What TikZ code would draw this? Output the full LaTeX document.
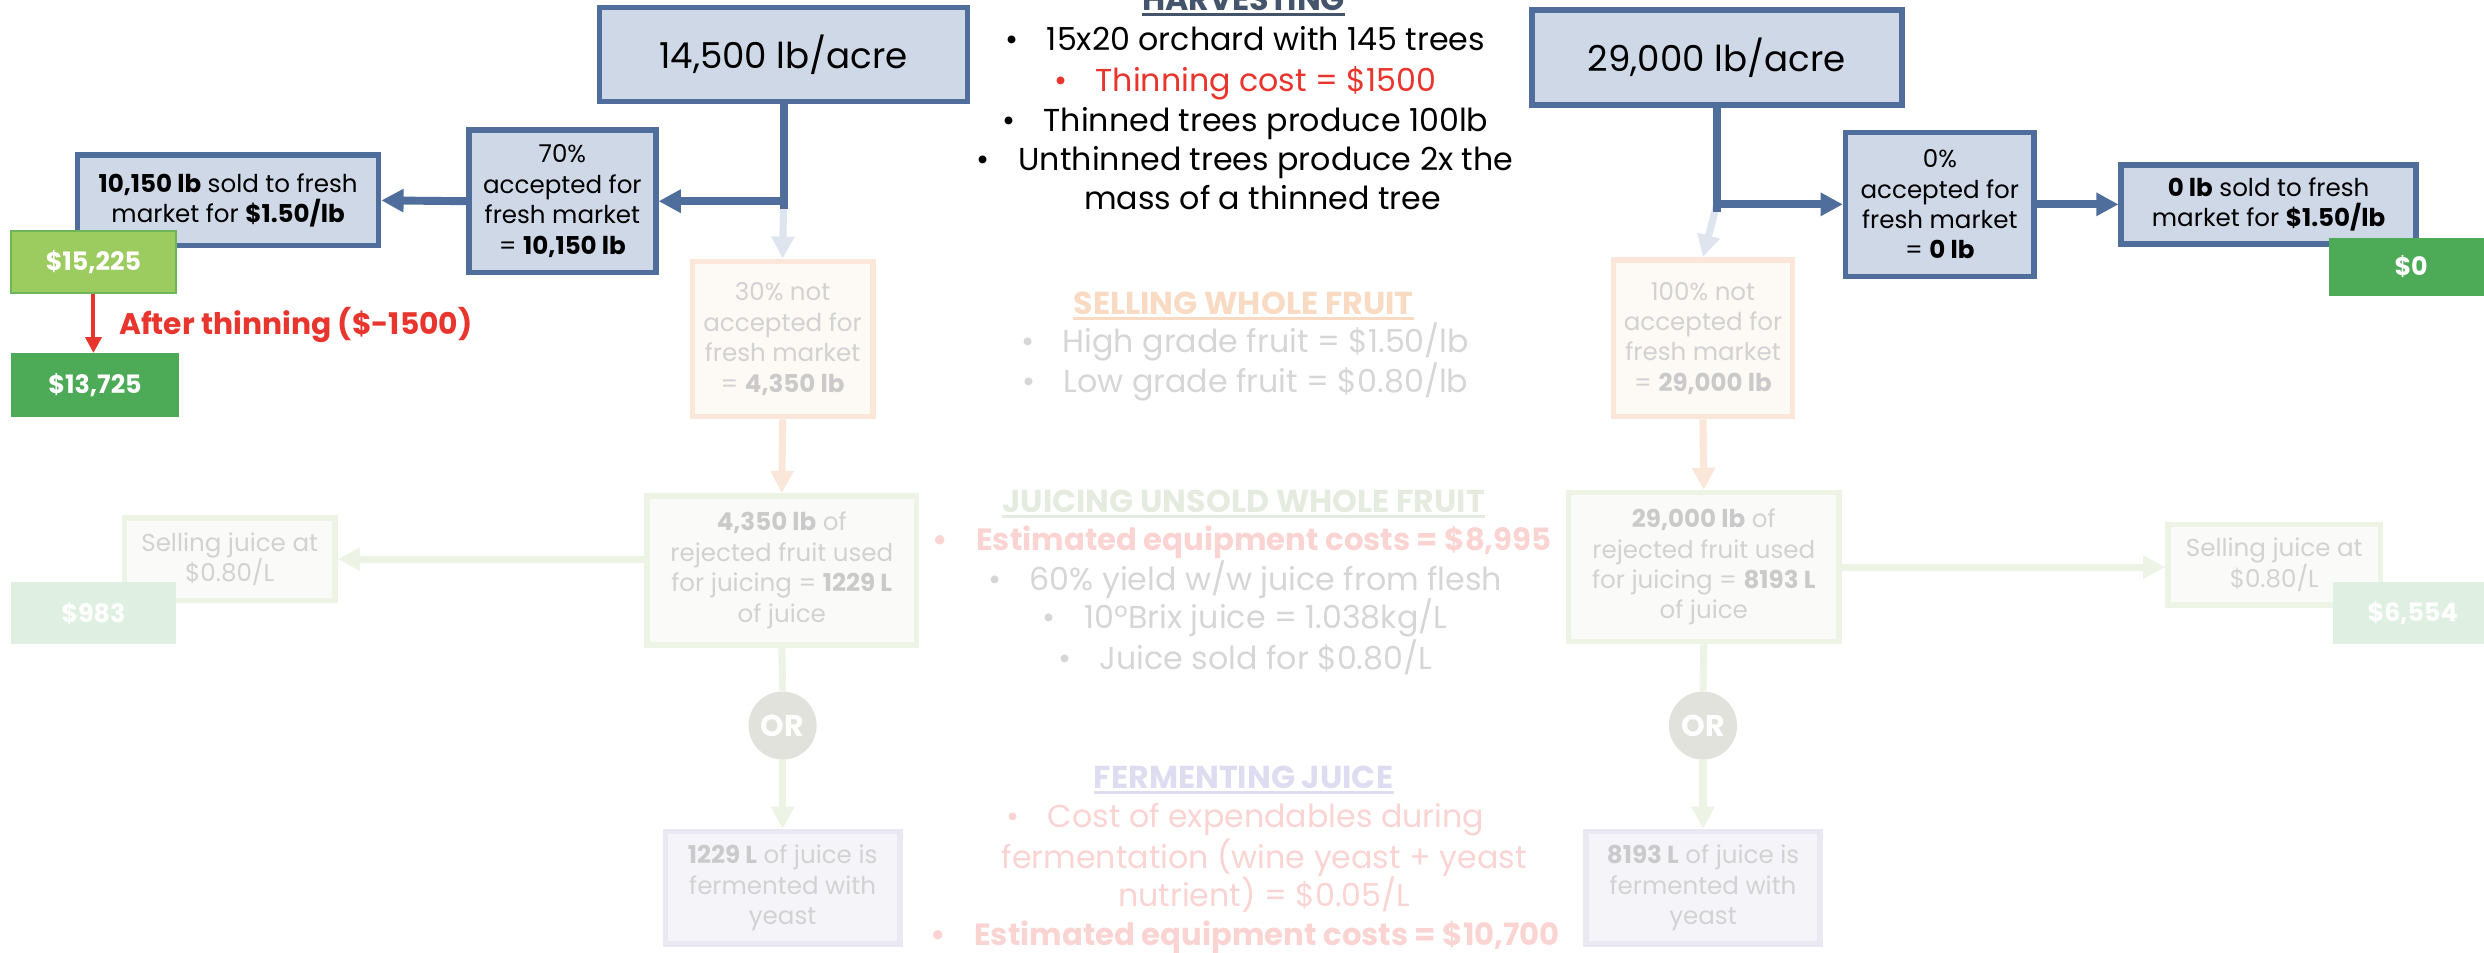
\documentclass[tikz,border=0pt]{standalone}
\usepackage{fontspec}
\setmainfont{Poppins}
\usetikzlibrary{arrows.meta}
\definecolor{bfill}{HTML}{CED8E6}
\definecolor{bline}{HTML}{4F6E9C}
\definecolor{gLight}{HTML}{9CCB5F}
\definecolor{gDark}{HTML}{4DAA57}
\definecolor{redc}{HTML}{E8352D}
\definecolor{harvc}{HTML}{44546A}
\definecolor{fBlueArr}{HTML}{DFE5EF}
\definecolor{fOrLine}{HTML}{FAE7DA}
\definecolor{fOrFill}{HTML}{FDF9F4}
\definecolor{fText}{HTML}{D2D2D2}
\definecolor{fTextB}{HTML}{CACACA}
\definecolor{fGrLine}{HTML}{EDF4E6}
\definecolor{fGrFill}{HTML}{FAFAF8}
\definecolor{fGrBox}{HTML}{DFF0E2}
\definecolor{fOR}{HTML}{E2E2DC}
\definecolor{fLavLine}{HTML}{E9E8F3}
\definecolor{fLavFill}{HTML}{F5F5F9}
\definecolor{fSellH}{HTML}{F9DBC3}
\definecolor{fJuiceH}{HTML}{E5ECDF}
\definecolor{fFermH}{HTML}{DEDCF0}
\definecolor{fRed}{HTML}{FAD4D2}
\definecolor{fGray}{HTML}{D6D6D6}
\newcommand\fBul{\fontsize{20}{25}\selectfont}
\newcommand\fBulB{\fontsize{19.4}{25}\selectfont\bfseries}
\newcommand\fBox{\fontsize{15.5}{19.2}\selectfont}
\newcommand\fTop{\fontsize{22.5}{25}\selectfont}
\newcommand\fMoney{\fontsize{16}{20}\selectfont\bfseries}
\newcommand\fb[1]{\textbf{\color{fTextB}#1}}
\tikzset{
  bbox/.style={draw=bline, fill=bfill, line width=3.5pt, align=center, inner sep=0pt, text=black, font=\fBox},
  topbox/.style={bbox, font=\fTop},
  gbox/.style={inner sep=0pt, text=white, font=\fMoney},
  obox/.style={draw=fOrLine, fill=fOrFill, line width=3.5pt, align=center, inner sep=0pt, text=fText, font=\fBox},
  grbox/.style={draw=fGrLine, fill=fGrFill, line width=3.5pt, align=center, inner sep=0pt, text=fText, font=\fBox},
  lavbox/.style={draw=fLavLine, fill=fLavFill, line width=3.5pt, align=center, inner sep=0pt, text=fText, font=\fBox},
  orcirc/.style={circle, fill=fOR, minimum size=43pt, inner sep=0pt, text=white, font=\fontsize{19}{20}\selectfont\bfseries},
  conn/.style={draw=bline, line width=5pt},
  tipB/.style={-{Triangle[length=14pt,width=14pt]}},
  fconn/.style={line width=4.5pt, -{Triangle[length=14pt,width=14pt]}},
  bul/.style={anchor=base, inner sep=0pt, font=\fBul},
  head/.style={anchor=base, inner sep=0pt, font=\fBul\bfseries},
}
\begin{document}
\begin{tikzpicture}[x=1pt,y=-1pt]
\useasboundingbox (0,0) rectangle (1568,601);

% ---------- faded nodes ----------
\node[obox, minimum width=114pt, minimum height=98pt] (acc30) at (494,214) {30\% not\\accepted for\\fresh market\\= \fb{4,350 lb}};
\node[obox, minimum width=113pt, minimum height=99pt] (acc100) at (1075,213.5) {100\% not\\accepted for\\fresh market\\= \fb{29,000 lb}};
\node[grbox, minimum width=170pt, minimum height=94pt] (juice1) at (493.5,360) {\fb{4,350 lb} of\\rejected fruit used\\for juicing = \fb{1229 L}\\of juice};
\node[grbox, minimum width=171pt, minimum height=94pt] (juice2) at (1075.5,358) {\fb{29,000 lb} of\\rejected fruit used\\for juicing = \fb{8193 L}\\of juice};
\node[grbox, minimum width=133pt, minimum height=52pt] (sell1) at (145,353) {Selling juice at\\\$0.80/L};
\node[grbox, minimum width=134pt, minimum height=51pt] (sell2) at (1435.6,356.5) {Selling juice at\\\$0.80/L};
\node[gbox, fill=fGrBox, minimum width=104pt, minimum height=39pt] (m983) at (59,387) {\$983};
\node[gbox, fill=fGrBox, minimum width=101pt, minimum height=39pt] (m6554) at (1523,387) {\$6,554};
\node[orcirc] (or1) at (494,458) {OR};
\node[orcirc] (or2) at (1075,458) {OR};
\node[lavbox, minimum width=148pt, minimum height=71pt] (ferm1) at (494,560.5) {\fb{1229 L} of juice is\\fermented with\\yeast};
\node[lavbox, minimum width=148pt, minimum height=71pt] (ferm2) at (1075,560.5) {\fb{8193 L} of juice is\\fermented with\\yeast};

% ---------- main nodes ----------
\node[topbox, minimum width=232.4pt, minimum height=59.6pt] (top1) at (494.6,34.4) {14,500 lb/acre};
\node[topbox, minimum width=233.5pt, minimum height=60pt] (top2) at (1083.7,36.3) {29,000 lb/acre};
\node[bbox, minimum width=118pt, minimum height=90pt] (acc70) at (355,127) {70\%\\accepted for\\fresh market\\= \textbf{10,150 lb}};
\node[bbox, minimum width=119pt, minimum height=91pt] (acc0) at (1224.5,129) {0\%\\accepted for\\fresh market\\= \textbf{0 lb}};
\node[bbox, minimum width=190pt, minimum height=57pt] (sold1) at (144,126.5) {\textbf{10,150 lb} sold to fresh\\market for \textbf{\$1.50/lb}};
\node[bbox, minimum width=186pt, minimum height=50pt] (sold0) at (1432,129) {\textbf{0 lb} sold to fresh\\market for \textbf{\$1.50/lb}};
\node[gbox, fill=gLight, draw=gDark!60!gLight, line width=1pt, minimum width=104pt, minimum height=39pt] (m15225) at (59,165.5) {\$15,225};
\node[gbox, fill=gDark, minimum width=106pt, minimum height=40pt] (m13725) at (60,243) {\$13,725};
\node[gbox, fill=gDark, minimum width=104pt, minimum height=37pt] (m0) at (1522,168.5) {\$0};
\node[anchor=west, inner sep=0pt, text=redc, font=\fontsize{18.8}{20}\selectfont\bfseries] (thin) at (75,205) {After thinning (\$-1500)};

% ---------- junctions ----------
\coordinate (j1) at (top1.south |- acc70.east);
\coordinate (j2) at (top2.south |- acc0.west);

% ---------- faded connectors ----------
\draw[fconn, draw=fBlueArr, fill=fBlueArr] (j1) -- (acc30.north);
\draw[fconn, draw=fBlueArr, fill=fBlueArr] (j2) -- (acc100.north);
\draw[fconn, draw=fOrLine] (acc30.south) -- (juice1.north);
\draw[fconn, draw=fOrLine] (acc100.south) -- (juice2.north);
\draw[fconn, draw=fGrLine] (juice1.west |- sell1.east) -- (sell1.east);
\draw[fconn, draw=fGrLine] (juice2.east) -- (juice2.east -| sell2.west);
\draw[line width=4.5pt, draw=fGrLine] (juice1.south) -- (or1.north);
\draw[line width=4.5pt, draw=fGrLine] (juice2.south) -- (or2.north);
\draw[fconn, draw=fGrLine] (or1.south) -- (ferm1.north);
\draw[fconn, draw=fGrLine] (or2.south) -- (ferm2.north);

% ---------- main connectors ----------
\draw[conn] (top1.south) -- ([yshift=-5pt]j1);
\draw[conn, tipB] ([xshift=2.5pt]j1) -- (acc70.east);
\draw[conn, tipB] (acc70.west) -- (sold1.east);
\draw[conn] (top2.south) -- ([yshift=-5pt]j2);
\draw[conn, tipB] ([xshift=-2.5pt]j2) -- (acc0.west);
\draw[conn, tipB] (acc0.east) -- (acc0.east -| sold0.west);
\draw[draw=redc, line width=2.5pt, -{Triangle[length=10pt,width=10pt]}] (m15225.south) -- (m15225.south |- m13725.north);

% ---------- center text ----------
\node[head, text=harvc] (harv) at (785,6.5) {HARVESTING};
\draw[harvc, line width=2pt] ([yshift=-2.5pt]harv.base west) -- ([yshift=-2.5pt]harv.base east);
\node[bul] (h1) at (786,31.6) {\textbullet\hspace{18pt}15x20 orchard with 145 trees};
\node[bul, text=redc] (h2) at (786,57.5) {\textbullet\hspace{18pt}Thinning cost = \$1500};
\node[bul] (h3) at (786,82.8) {\textbullet\hspace{18pt}Thinned trees produce 100lb};
\node[bul] (h4) at (786,107.6) {\textbullet\hspace{18pt}Unthinned trees produce 2x the};
\node[bul] (h5) at (797,132) {mass of a thinned tree};

\node[head, text=fSellH] (sellh) at (785,198.8) {SELLING WHOLE FRUIT};
\draw[fSellH, line width=2pt] ([yshift=-2.5pt]sellh.base west) -- ([yshift=-2.5pt]sellh.base east);
\node[bul, text=fGray] (s1) at (786,222.7) {\textbullet\hspace{18pt}High grade fruit = \$1.50/lb};
\node[bul, text=fGray] (s2) at (786,248) {\textbullet\hspace{18pt}Low grade fruit = \$0.80/lb};

\node[head, text=fJuiceH] (juiceh) at (785,323.5) {JUICING UNSOLD WHOLE FRUIT};
\draw[fJuiceH, line width=2pt] ([yshift=-2.5pt]juiceh.base west) -- ([yshift=-2.5pt]juiceh.base east);
\node[bul, text=fRed, font=\fBulB] (u1) at (784,347.5) {\textbullet\hspace{18pt}Estimated equipment costs = \$8,995};
\node[bul, text=fGray] (u2) at (786,373) {\textbullet\hspace{18pt}60\% yield w/w juice from flesh};
\node[bul, text=fGray] (u3) at (786,397) {\textbullet\hspace{18pt}10ºBrix juice = 1.038kg/L};
\node[bul, text=fGray] (u4) at (786,422.6) {\textbullet\hspace{18pt}Juice sold for \$0.80/L};

\node[head, text=fFermH] (fermh) at (785,497.5) {FERMENTING JUICE};
\draw[fFermH, line width=2pt] ([yshift=-2.5pt]fermh.base west) -- ([yshift=-2.5pt]fermh.base east);
\node[bul, text=fRed] (e1) at (786,522.3) {\textbullet\hspace{18pt}Cost of expendables during};
\node[bul, text=fRed] (e2) at (798,548) {fermentation (wine yeast + yeast};
\node[bul, text=fRed] (e3) at (798,572.5) {nutrient) = \$0.05/L};
\node[bul, text=fRed, font=\fBulB] (e4) at (786,597) {\textbullet\hspace{18pt}Estimated equipment costs = \$10,700};
\end{tikzpicture}
\end{document}
